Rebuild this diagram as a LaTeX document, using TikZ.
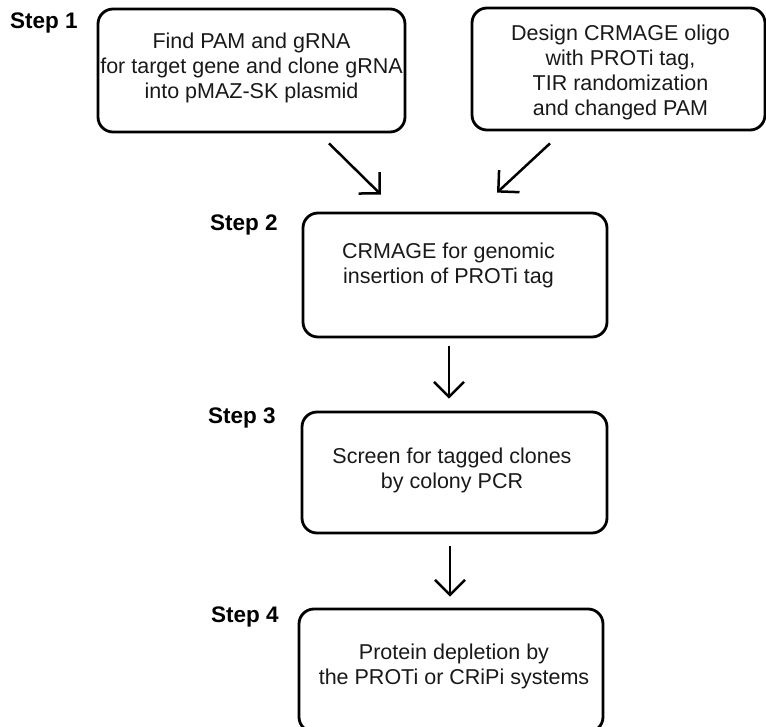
\documentclass[tikz,border=0pt]{standalone}
\usepackage{fontspec}
\setmainfont{Liberation Sans}
\usetikzlibrary{arrows.meta}
\begin{document}
\begin{tikzpicture}[x=1pt,y=-1pt,
  stagebox/.style={draw, line width=2.8pt, rounded corners=15pt, inner sep=0pt},
  body/.style={align=center, inner sep=0pt, text=black!90,
    font=\fontsize{21.5}{25}\selectfont},
  steplabel/.style={anchor=base west, inner sep=0pt,
    font=\bfseries\fontsize{22.5}{27}\selectfont},
  flow/.style={line width=2.5pt, -{Straight Barb[length=15pt,width=30pt]}}]
\useasboundingbox (0,0) rectangle (766,727);
\clip (0,0) rectangle (766,727);

% step boxes
\node[stagebox, minimum width=307pt, minimum height=123pt] (s1a) at (251.5,70.5) {};
\node[stagebox, minimum width=293pt, minimum height=122pt] (s1b) at (618.5,69) {};
\node[stagebox, minimum width=304pt, minimum height=124pt] (s2) at (455,275) {};
\node[stagebox, minimum width=305pt, minimum height=121pt] (s3) at (454.5,472.5) {};
\node[stagebox, minimum width=304pt, minimum height=123pt] (s4) at (451,670.5) {};

% box texts
\node[body] (t1a) at (251.5,67.5) {Find PAM and gRNA\\for target gene and clone gRNA\\into pMAZ-SK plasmid};
\node[body] (t1b) at (620.5,72) {Design CRMAGE oligo\\with PROTi tag,\\TIR randomization\\and changed PAM};
\node[body] (t2) at (448.5,265) {CRMAGE for genomic\\insertion of PROTi tag};
\node[body] (t3) at (452,470) {Screen for tagged clones\\by colony PCR};
\node[body] (t4) at (454,666.5) {Protein depletion by\\the PROTi or CRiPi systems};

% step labels
\node[steplabel] (l1) at (10,29) {Step 1};
\node[steplabel] (l2) at (210,231) {Step 2};
\node[steplabel] (l3) at (208,423) {Step 3};
\node[steplabel] (l4) at (211,622) {Step 4};

% connectors
\draw[flow] ([shift={(77.5,10)}]s1a.south) -- ([shift={(-74,-17)}]s2.north);
\draw[flow] ([shift={(-68.5,12)}]s1b.south) -- ([shift={(42,-19)}]s2.north);
\draw[flow] ([shift={(-6,8)}]s2.south) -- ([shift={(-5.5,-12)}]s3.north);
\draw[flow] ([shift={(-4.5,12)}]s3.south) -- ([shift={(-1,-11)}]s4.north);
\end{tikzpicture}
\end{document}
